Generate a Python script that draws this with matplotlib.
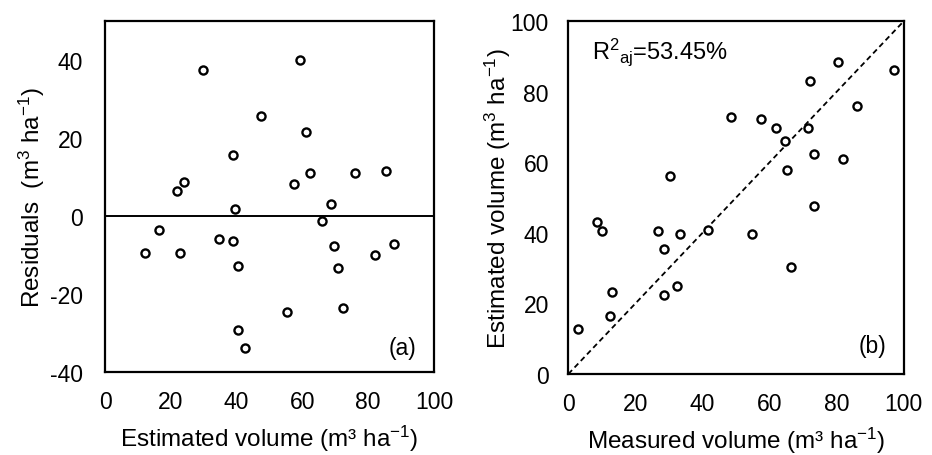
import matplotlib.pyplot as plt

plt.rcParams["font.family"] = ["Liberation Sans", "DejaVu Sans"]
plt.rcParams["mathtext.fontset"] = "custom"
plt.rcParams["mathtext.rm"] = "Liberation Sans"
plt.rcParams["mathtext.it"] = "Liberation Sans"
plt.rcParams["mathtext.default"] = "regular"
plt.rcParams["axes.unicode_minus"] = False

# (a) residuals vs estimated volume
est_a = [29.8, 59.4, 47.5, 61.0, 39.0, 21.9, 24.1, 62.3, 75.9, 85.5, 57.4, 39.6, 68.8, 66.0,
         16.3, 12.1, 22.9, 34.7, 38.9, 40.4, 69.5, 70.7, 82.2, 87.8, 55.2, 72.3, 40.4, 42.5]
resid = [37.3, 40.1, 25.6, 21.5, 15.7, 6.4, 8.7, 11.0, 11.0, 11.6, 8.2, 1.7, 3.1, -1.2,
         -3.5, -9.5, -9.5, -5.8, -6.3, -12.8, -7.7, -13.4, -10.0, -7.2, -24.5, -23.5, -29.2, -33.9]

# (b) estimated vs measured volume
measured = [80.4, 97.1, 72.1, 86.0, 48.6, 57.4, 61.9, 71.3, 64.6, 73.1, 81.8, 65.2, 30.3, 73.1,
            8.5, 10.1, 26.8, 33.2, 41.5, 54.7, 28.5, 66.4, 32.4, 13.0, 28.5, 12.4, 3.0]
estimated = [88.3, 86.2, 83.1, 76.0, 72.7, 72.2, 69.6, 69.7, 66.1, 62.3, 60.9, 57.9, 56.2, 47.5,
             43.1, 40.6, 40.6, 39.7, 40.7, 39.7, 35.4, 30.3, 25.0, 23.1, 22.5, 16.5, 12.7]

ticks_a_x = [0, 20, 40, 60, 80, 100]
ticks_a_y = [-40, -20, 0, 20, 40]
ticks_b = [0, 20, 40, 60, 80, 100]

unit = r"(m$^3$ ha$^{-1}$)"
fs = 16.5
fl = 17.5  # axis label size

fig = plt.figure(figsize=(9.32, 4.56), dpi=100)
ax1 = fig.add_axes([0.1127, 0.182, 0.353, 0.770])
ax2 = fig.add_axes([0.6098, 0.1776, 0.360, 0.774])

mk = dict(marker="o", s=34, facecolors="white", edgecolors="black", linewidths=1.7, zorder=3)

ax1.scatter(est_a, resid, **mk)
ax1.axhline(0, color="black", linewidth=1.4)
ax1.set_xlim(0, 100)
ax1.set_ylim(-40, 50)
ax1.set_xticks(ticks_a_x)
ax1.set_yticks(ticks_a_y)
ax1.set_xlabel("Estimated volume (m³ ha$^{-1}$)", fontsize=fl, labelpad=7)
ax1.set_ylabel("Residuals  " + unit, fontsize=fl, labelpad=2)
ax1.text(0.947, 0.07, "(a)", transform=ax1.transAxes, ha="right", va="center", fontsize=fs)

ax2.plot([0, 100], [0, 100], color="black", linestyle="--", linewidth=1.3, dashes=(3, 2))
ax2.scatter(measured, estimated, **mk)
ax2.set_xlim(0, 100)
ax2.set_ylim(0, 100)
ax2.set_xticks(ticks_b)
ax2.set_yticks(ticks_b)
ax2.set_xlabel("Measured volume (m³ ha$^{-1}$)", fontsize=fl, labelpad=7)
ax2.set_ylabel("Estimated volume " + unit, fontsize=fl, labelpad=-2)
ax2.text(0.948, 0.08, "(b)", transform=ax2.transAxes, ha="right", va="center", fontsize=fs)
ax2.text(0.07, 0.916, "R$^2$$_{aj}$=53.45%", transform=ax2.transAxes, ha="left", va="center",
         fontsize=fs + 0.5)

for ax in (ax1, ax2):
    ax.tick_params(length=0, labelsize=fs)
    ax.tick_params(axis="y", pad=16)
    ax.tick_params(axis="x", pad=13)
    for s in ax.spines.values():
        s.set_linewidth(1.6)
ax2.tick_params(axis="y", pad=14)

fig.savefig("out.png", dpi=100)
